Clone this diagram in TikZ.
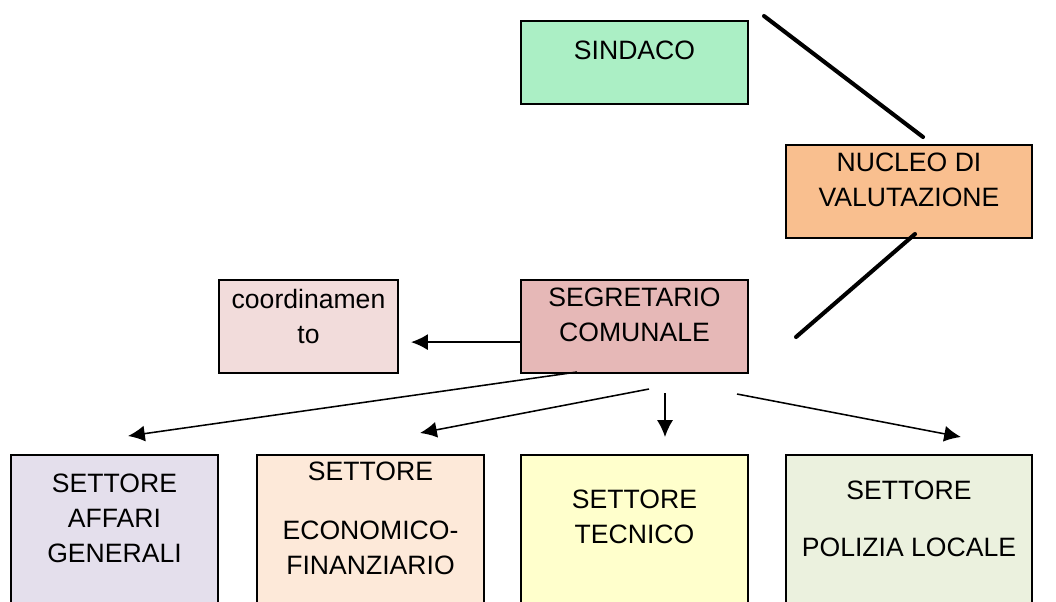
\documentclass[tikz,border=0pt]{standalone}
\usepackage{fontspec}
\setmainfont{Liberation Sans}
\usetikzlibrary{arrows,arrows.meta,shapes,positioning}

\definecolor{sindacogreen}{RGB}{171,239,197}
\definecolor{nucleoorange}{RGB}{249,191,143}
\definecolor{segrpink}{RGB}{230,184,183}
\definecolor{coordpink}{RGB}{242,220,219}
\definecolor{affarililac}{RGB}{228,223,236}
\definecolor{econpeach}{RGB}{253,233,217}
\definecolor{tecnyellow}{RGB}{255,255,204}
\definecolor{polgreen}{RGB}{235,241,222}

\tikzset{
	box/.style={draw=black, line width=1.4pt, inner sep=0pt},
	txt/.style={anchor=north, align=center, inner sep=0pt, font=\fontsize{18.9}{24.9}\selectfont},
	link/.style={line width=2.9pt, line cap=round},
	pil/.style={line width=1.1pt, -{Latex[length=4.2mm,width=4mm]}}
}

\begin{document}
\begin{tikzpicture}[x=0.025cm, y=-0.025cm]
	\clip (0,0) rectangle (1056,601);
	\fill[white] (0,0) rectangle (1056,601);
	
	% upper boxes
	\node[box, fill=sindacogreen, minimum width=5.675cm, minimum height=2.075cm] (sindaco) at (634.5,62.5) {};
	\node[box, fill=nucleoorange, minimum width=6.15cm, minimum height=2.325cm] (nucleo) at (909,191.5) {};
	\node[box, fill=segrpink, minimum width=5.675cm, minimum height=2.325cm] (segretario) at (634.5,326.5) {};
	\node[box, fill=coordpink, minimum width=4.475cm, minimum height=2.325cm] (coord) at (308.5,326.5) {};
	
	% settori
	\node[box, fill=affarililac, minimum width=5.175cm, minimum height=4.625cm] (affari) at (114.5,547.5) {};
	\node[box, fill=econpeach, minimum width=5.675cm, minimum height=4.625cm] (economico) at (370.5,547.5) {};
	\node[box, fill=tecnyellow, minimum width=5.675cm, minimum height=4.625cm] (tecnico) at (634.5,547.5) {};
	\node[box, fill=polgreen, minimum width=6.15cm, minimum height=4.625cm] (polizia) at (909,547.5) {};
	
	\node[txt] (sindacotxt) at (634.5,40.5) {SINDACO};
	\node[txt] (nucleotxt) at (909,152.5) {NUCLEO DI\\VALUTAZIONE};
	\node[txt] (segretariotxt) at (634.5,287.5) {SEGRETARIO\\COMUNALE};
	\node[txt] (coordtxt) at (308.5,288.5) {coordinamen\\to};
	\node[txt] (affaritxt) at (114.5,473.5) {SETTORE\\AFFARI\\GENERALI};
	\node[txt] (economicotxt) at (370.5,461.5) {SETTORE\\[0.6cm]ECONOMICO-\\FINANZIARIO};
	\node[txt] (tecnicotxt) at (634.5,489.5) {SETTORE\\TECNICO};
	\node[txt] (poliziatxt) at (909,480.5) {SETTORE\\[0.55cm]POLIZIA LOCALE};
	
	% free ends of the connectors
	\coordinate (s1) at (764,16);
	\coordinate (n1) at (923,137);
	\coordinate (n2) at (915,234);
	\coordinate (g1) at (796,337);
	\coordinate (a1) at (577,372);
	\coordinate (t1) at (128,436);
	\coordinate (a2) at (649,389);
	\coordinate (t2) at (420,433);
	\coordinate (a3) at (665,393);
	\coordinate (t3) at (665,437);
	\coordinate (a4) at (737,394);
	\coordinate (t4) at (961,437);
	
	\draw[link] (s1) -- (n1);
	\draw[link] (n2) -- (g1);
	
	\draw[pil] ([yshift=-0.39cm]segretario.west) -- ([xshift=0.3cm, yshift=-0.39cm]coord.east);
	\draw[pil] (a1) -- (t1);
	\draw[pil] (a2) -- (t2);
	\draw[pil] (a3) -- (t3);
	\draw[pil] (a4) -- (t4);
\end{tikzpicture}
\end{document}
